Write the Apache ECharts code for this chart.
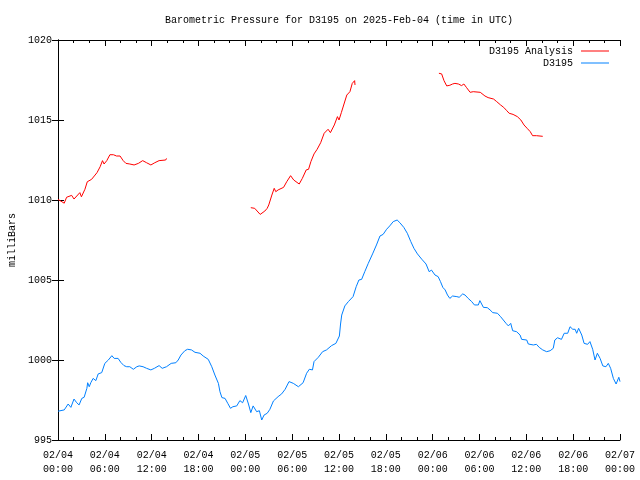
<!DOCTYPE html>
<html>
<head>
<meta charset="utf-8">
<script src="https://cdn.jsdelivr.net/npm/echarts@6/dist/echarts.min.js"></script>
<style>html,body{margin:0;padding:0;background:#fff}#c{width:640px;height:480px}</style>
</head>
<body>
<div id="c"></div>
<script>
// hours since 2025-02-04 00:00 UTC
const tickLabels = ['02/04\n00:00','02/04\n06:00','02/04\n12:00','02/04\n18:00','02/05\n00:00','02/05\n06:00','02/05\n12:00','02/05\n18:00','02/06\n00:00','02/06\n06:00','02/06\n12:00','02/06\n18:00','02/07\n00:00'];

const analysisHours = [0,0.8,1.1,1.75,2.05,2.8,3.0,3.45,3.75,4.3,4.75,5.0,5.4,5.7,5.9,6.25,6.65,7.1,7.5,7.95,8.35,8.7,9.2,9.75,10.3,10.85,11.35,11.9,12.4,12.95,13.8,13.9,
  19,
  24.7,25.2,25.9,26.5,26.8,27.0,27.4,27.7,27.9,28.2,28.9,29.3,29.8,30.2,30.9,31.3,31.8,32.1,32.4,32.8,33.2,33.65,34.1,34.6,34.9,35.4,35.8,36.0,36.3,36.8,37.0,37.4,37.7,38.0,38.05,
  43,
  48.8,49.15,49.45,49.8,50.2,50.55,50.85,51.3,51.7,52.0,52.35,52.8,53.2,54.1,54.7,55.1,55.8,56.2,56.7,57.1,57.5,57.8,58.3,58.85,59.3,59.7,60.1,60.5,60.8,61.3,62.1];
const analysisValues = [1010.04,1009.8,1010.17,1010.29,1010.06,1010.46,1010.2,1010.67,1011.14,1011.29,1011.56,1011.71,1012.08,1012.46,1012.25,1012.46,1012.83,1012.83,1012.75,1012.75,1012.46,1012.29,1012.25,1012.19,1012.29,1012.46,1012.33,1012.19,1012.33,1012.46,1012.5,1012.6,
  null,
  1009.52,1009.48,1009.1,1009.31,1009.48,1009.69,1010.31,1010.73,1010.52,1010.63,1010.79,1011.14,1011.52,1011.25,1011.0,1011.35,1011.88,1011.92,1012.4,1012.88,1013.17,1013.58,1014.17,1014.42,1014.21,1014.69,1015.21,1015.0,1015.46,1016.25,1016.56,1016.77,1017.29,1017.46,1017.19,
  null,
  1017.92,1017.88,1017.46,1017.13,1017.17,1017.25,1017.29,1017.25,1017.15,1017.25,1017.02,1016.73,1016.77,1016.73,1016.5,1016.4,1016.31,1016.15,1015.94,1015.79,1015.58,1015.42,1015.35,1015.21,1015.0,1014.69,1014.48,1014.27,1014.02,1014.02,1013.98];

const obsHours = [0,0.8,1.3,1.65,2.05,2.4,2.7,3.05,3.35,3.7,3.8,4.0,4.2,4.5,4.85,5.15,5.6,6.0,6.45,6.9,7.2,7.7,8.05,8.45,8.8,9.2,9.65,10.1,10.4,10.9,11.35,11.9,12.35,12.95,13.35,13.9,14.5,15.1,15.4,15.75,16.25,16.6,17.1,17.55,18.2,18.6,18.85,19.25,19.7,20.1,20.55,20.75,21.0,21.4,21.75,22.1,22.4,22.9,23.3,23.65,24.05,24.4,24.7,25.0,25.45,25.8,26.1,26.4,26.8,27.15,27.6,28.2,28.65,29.1,29.6,30.15,30.8,31.4,31.85,32.2,32.6,32.8,33.35,33.9,34.4,35.05,35.6,36.05,36.2,36.35,36.75,37.2,37.8,38.2,38.55,38.9,39.3,39.75,40.3,40.8,41.25,41.65,42.1,42.5,42.95,43.45,43.8,44.3,44.75,45.2,45.6,46.05,46.6,47.15,47.55,47.85,48.3,48.7,49.0,49.3,49.6,49.9,50.2,50.55,51.1,51.4,51.85,52.15,52.55,53.0,53.35,53.85,54.05,54.5,55.0,55.35,55.7,56.3,56.7,57.05,57.4,57.7,58.0,58.25,58.75,59.2,59.4,60.05,60.25,60.9,61.3,61.65,62.1,62.6,63.05,63.45,63.65,64.0,64.5,64.85,65.3,65.6,65.95,66.25,66.45,66.7,67.1,67.4,67.85,68.15,68.5,68.8,69.1,69.45,69.8,70.2,70.5,70.8,71.15,71.5,71.85,72.0];
const obsValues = [996.8,996.88,997.25,997.04,997.56,997.33,997.19,997.6,997.67,998.23,998.58,998.33,998.58,998.85,998.71,999.13,999.21,999.79,1000.0,1000.27,1000.1,1000.1,999.85,999.65,999.58,999.58,999.42,999.58,999.63,999.58,999.48,999.38,999.48,999.65,999.48,999.58,999.79,999.83,1000.0,1000.31,1000.58,1000.67,1000.63,1000.48,1000.42,1000.25,1000.31,1000.04,999.58,999.06,998.54,998.02,997.65,997.6,997.29,996.98,997.08,997.13,997.46,997.33,997.78,997.25,996.71,997.13,996.77,996.83,996.25,996.56,996.67,996.92,997.44,997.71,997.88,998.17,998.65,998.54,998.33,998.58,999.17,999.42,999.38,999.9,1000.17,1000.52,1000.63,1000.9,1001.04,1001.5,1002.25,1002.81,1003.38,1003.65,1003.96,1004.58,1005.0,1005.04,1005.52,1006.04,1006.63,1007.19,1007.75,1007.85,1008.17,1008.38,1008.65,1008.75,1008.58,1008.29,1007.92,1007.4,1006.98,1006.63,1006.3,1006.0,1005.52,1005.62,1005.31,1005.21,1004.9,1004.54,1004.38,1004.06,1003.85,1004.0,1003.96,1003.92,1004.13,1004.06,1003.85,1003.65,1003.44,1003.44,1003.71,1003.29,1003.27,1003.13,1002.96,1002.92,1002.71,1002.5,1002.29,1002.13,1002.29,1001.83,1001.77,1001.56,1001.29,1001.25,1001.0,1000.94,1000.98,1000.79,1000.63,1000.52,1000.58,1000.73,1001.25,1001.39,1001.29,1001.67,1001.67,1002.08,1001.92,1001.92,1001.67,1001.98,1001.56,1001.04,1000.98,1001.15,1000.67,1000.0,1000.42,1000.1,999.63,999.58,999.79,999.48,998.85,998.5,998.92,998.65];

const FONT = 'Liberation Mono';
const analysisData = analysisHours.map((h, i) => [h, analysisValues[i] === null ? '-' : analysisValues[i]]);
const obsData = obsHours.map((h, i) => [h, obsValues[i]]);

const chart = echarts.init(document.getElementById('c'), null, {renderer: 'canvas'});
const axisLine = {show: true, lineStyle: {color: '#000', width: 1}};
chart.setOption({
  animation: false,
  backgroundColor: '#fff',
  title: {
    text: 'Barometric Pressure for D3195 on 2025-Feb-04 (time in UTC)',
    left: 334, top: 10, textAlign: 'center',
    textStyle: {fontFamily: FONT, fontSize: 10, fontWeight: 'normal', color: '#000'}
  },
  legend: {
    orient: 'vertical', right: 31, top: 45, align: 'right',
    itemWidth: 28, itemHeight: 1, itemGap: 0, icon: 'rect', padding: 0,
    textStyle: {fontFamily: FONT, fontSize: 10, color: '#000', padding: [0, 3, 0, 0], lineHeight: 12, height: 12},
    data: ['D3195 Analysis', 'D3195']
  },
  grid: {left: 58, right: 20, top: 40, bottom: 40, containLabel: false, outerBoundsMode: 'none'},
  xAxis: [{
    type: 'value', min: 0, max: 72, interval: 6, position: 'bottom',
    axisLine: axisLine,
    axisTick: {show: true, inside: true, length: 6, lineStyle: {color: '#000'}},
    minorTick: {show: true, splitNumber: 3, length: 3, lineStyle: {color: '#000'}},
    splitLine: {show: false},
    axisLabel: {fontFamily: FONT, fontSize: 10, color: '#000', lineHeight: 14, margin: 8,
      formatter: v => tickLabels[Math.round(v / 6)]}
  }, {
    type: 'value', min: 0, max: 72, interval: 6, position: 'top',
    axisLine: axisLine,
    axisTick: {show: true, inside: true, length: 6, lineStyle: {color: '#000'}},
    minorTick: {show: true, splitNumber: 3, length: 3, lineStyle: {color: '#000'}},
    splitLine: {show: false}, axisLabel: {show: false}
  }],
  yAxis: [{
    type: 'value', min: 995, max: 1020, interval: 5, position: 'left',
    name: 'milliBars', nameLocation: 'middle', nameGap: 40, nameRotate: 90,
    nameTextStyle: {fontFamily: FONT, fontSize: 10, color: '#000'},
    axisLine: axisLine,
    axisTick: {show: true, inside: true, length: 6, lineStyle: {color: '#000'}},
    splitLine: {show: false},
    axisLabel: {fontFamily: FONT, fontSize: 10, color: '#000', margin: 6, formatter: v => String(v)}
  }, {
    type: 'value', min: 995, max: 1020, interval: 5, position: 'right',
    axisLine: axisLine,
    axisTick: {show: true, inside: true, length: 6, lineStyle: {color: '#000'}},
    splitLine: {show: false}, axisLabel: {show: false}
  }],
  series: [{
    name: 'D3195 Analysis', type: 'line', data: analysisData, xAxisIndex: 0, yAxisIndex: 0,
    showSymbol: false, symbol: 'none', connectNulls: false,
    lineStyle: {color: '#ff0000', width: 1}, itemStyle: {color: '#ff0000'}
  }, {
    name: 'D3195', type: 'line', data: obsData, xAxisIndex: 0, yAxisIndex: 0,
    showSymbol: false, symbol: 'none',
    lineStyle: {color: '#0080ff', width: 1}, itemStyle: {color: '#0080ff'}
  }]
});
</script>
</body>
</html>
